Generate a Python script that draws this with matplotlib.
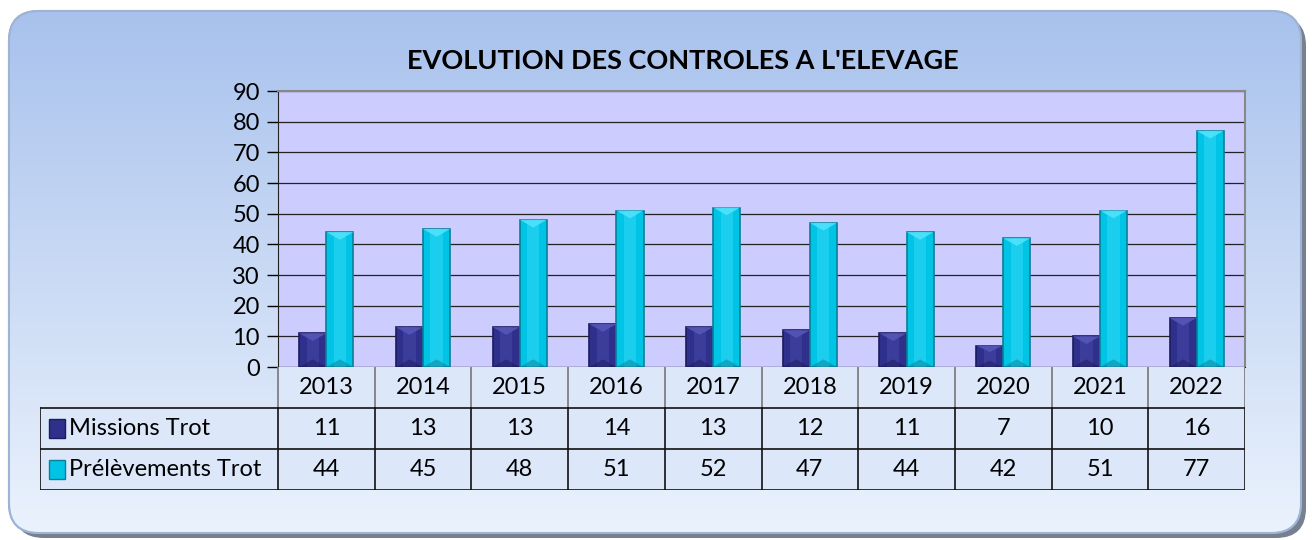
import numpy as np
import matplotlib.pyplot as plt
from matplotlib.patches import FancyBboxPatch, Rectangle, Polygon

plt.rcParams['font.family'] = ['Lato', 'DejaVu Sans']

years = ["2013", "2014", "2015", "2016", "2017", "2018", "2019", "2020", "2021", "2022"]
missions = [11, 13, 13, 14, 13, 12, 11, 7, 10, 16]
prelevements = [44, 45, 48, 51, 52, 47, 44, 42, 51, 77]
series_names = ["Missions Trot", "Prélèvements Trot"]
title = "EVOLUTION DES CONTROLES A L'ELEVAGE"

navy = "#2f2f8c"
navy_dark = "#1c1c5e"
navy_light = "#5656b8"
cyan = "#00c4e6"
cyan_dark = "#0a7f9a"
cyan_light = "#4fe3fb"

W, H = 1312, 540
fig = plt.figure(figsize=(W / 100, H / 100), dpi=100)

# background rounded panel with vertical gradient
bg = fig.add_axes([0, 0, 1, 1])
bg.set_xlim(0, W)
bg.set_ylim(H, 0)
bg.axis("off")
shadow = FancyBboxPatch((14, 16), 1292, 522, boxstyle="round,pad=0,rounding_size=30",
                        facecolor="#5f6a7c", edgecolor="none", alpha=0.85)
bg.add_patch(shadow)
panel = FancyBboxPatch((9, 11), 1292, 522, boxstyle="round,pad=0,rounding_size=30",
                       facecolor="none", edgecolor="#8fa6c8", linewidth=1.5)
bg.add_patch(panel)
grad = np.linspace(0, 1, 256).reshape(-1, 1)
top = np.array([0.66, 0.76, 0.93])
bot = np.array([0.92, 0.95, 0.99])
img = top + (bot - top) * grad[:, :, None]
im = bg.imshow(img, extent=(9, 1301, 533, 11), aspect="auto", zorder=1)
im.set_clip_path(panel)
bg.add_patch(FancyBboxPatch((9, 11), 1292, 522, boxstyle="round,pad=0,rounding_size=30",
                            facecolor="none", edgecolor="#9fb4d4", linewidth=1.5, zorder=2))

fig.text(683 / W, 1 - 61 / H, title, ha="center", va="center",
         fontsize=19.5, fontweight="bold", color="black")

# chart axes
x0, x1, ytop, ybot = 278, 1245, 91, 367
ax = fig.add_axes([x0 / W, 1 - ybot / H, (x1 - x0) / W, (ybot - ytop) / H])
ax.set_facecolor("#ccccff")
ax.set_xlim(-0.5, len(years) - 0.5)
ax.set_ylim(0, 90)
ax.set_yticks(range(0, 91, 10))
ax.yaxis.grid(True, color="#222222", linewidth=0.9)
ax.set_axisbelow(True)
ax.set_xticks([])
ax.tick_params(axis="y", labelsize=17, length=8, width=1, pad=5)
for s in ["top", "right"]:
    ax.spines[s].set_color("#888888")
    ax.spines[s].set_linewidth(1.5)
ax.spines["left"].set_color("#222222")
ax.spines["bottom"].set_color("#222222")

x = np.arange(len(years))
bw = 0.28


def bevel_bar(xc, h, base, dark, light):
    ax.bar(xc, h, width=bw, color=base, edgecolor=dark, linewidth=1.2, zorder=3)
    # lighter central face
    ax.bar(xc, h, width=bw * 0.45, color=light, alpha=0.35, linewidth=0, zorder=4)
    # top bevel triangle
    th = min(2.5, h * 0.3)
    ax.add_patch(Polygon([(xc - bw / 2, h), (xc + bw / 2, h), (xc, h - th)],
                         closed=True, facecolor=light, edgecolor="none", alpha=0.9, zorder=5))
    ax.add_patch(Polygon([(xc - bw / 2, 0), (xc + bw / 2, 0), (xc, min(2.5, h * 0.3))],
                         closed=True, facecolor=dark, edgecolor="none", alpha=0.5, zorder=5))


for i in range(len(years)):
    bevel_bar(x[i] - bw / 2, missions[i], navy, navy_dark, navy_light)
    bevel_bar(x[i] + bw / 2, prelevements[i], cyan, cyan_dark, cyan_light)

# data table below
tl = 40
tb = 490
tab = fig.add_axes([tl / W, 1 - tb / H, (x1 - tl) / W, (tb - ybot) / H])
cat_px = (x1 - x0) / len(years)
left_units = (x0 - tl) / cat_px
tab.set_xlim(-0.5 - left_units, len(years) - 0.5)
tab.set_ylim(3, 0)
tab.axis("off")
tab.add_patch(Rectangle((-0.5, 0), len(years), 1, facecolor="#dce7fa", edgecolor="none"))
tab.add_patch(Rectangle((-0.5 - left_units, 1), len(years) + left_units, 2,
                        facecolor="#dce7fa", edgecolor="none"))
lc = "#111111"
for k in range(len(years) + 1):
    xb = k - 0.5
    tab.plot([xb, xb], [0, 1], color="#777777", lw=1.2)
    tab.plot([xb, xb], [1, 3], color=lc, lw=1.2)
tab.plot([-0.5 - left_units] * 2, [1, 3], color=lc, lw=1.2)
tab.plot([-0.5 - left_units, len(years) - 0.5], [1, 1], color=lc, lw=1.2)
tab.plot([-0.5 - left_units, len(years) - 0.5], [2, 2], color=lc, lw=1.2)
tab.plot([-0.5 - left_units, len(years) - 0.5], [3, 3], color=lc, lw=1.2)

fs = 17
for i, yr in enumerate(years):
    tab.text(i, 0.5, yr, ha="center", va="center", fontsize=fs)
    tab.text(i, 1.5, str(missions[i]), ha="center", va="center", fontsize=fs)
    tab.text(i, 2.5, str(prelevements[i]), ha="center", va="center", fontsize=fs)

sq = 0.17
for r, (name, c, d) in enumerate(zip(series_names, [navy, cyan], [navy_dark, cyan_dark])):
    xs = -0.5 - left_units + 0.09
    tab.add_patch(Rectangle((xs, r + 1.5 - 0.22), sq, 0.44, facecolor=c, edgecolor=d, lw=1))
    tab.text(xs + sq + 0.04, r + 1.5, name, ha="left", va="center", fontsize=fs)

fig.savefig("out.png", dpi=100)
